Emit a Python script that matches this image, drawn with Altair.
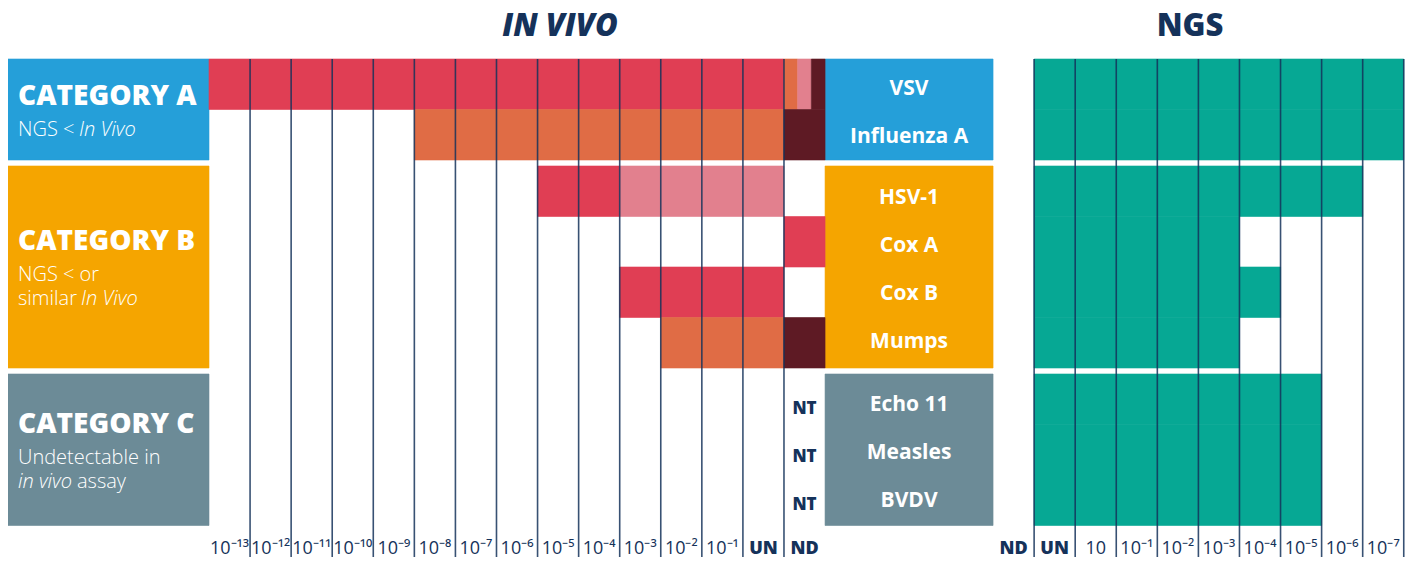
import altair as alt
import pandas as pd

# ---------------- data ----------------
viruses = ["VSV", "Influenza A", "HSV-1", "Cox A", "Cox B", "Mumps", "Echo 11", "Measles", "BVDV"]
virus_category = ["A", "A", "B", "B", "B", "B", "C", "C", "C"]
categories = ["A", "B", "C"]
category_titles = ["CATEGORY A", "CATEGORY B", "CATEGORY C"]
category_notes = [
    [[("NGS <", "normal"), ("In Vivo", "italic")]],
    [[("NGS < or", "normal")], [("similar", "normal"), ("In Vivo", "italic")]],
    [[("Undetectable in", "normal")], [("in vivo", "italic"), ("assay", "normal")]],
]

invivo_levels = ["10⁻¹³", "10⁻¹²", "10⁻¹¹", "10⁻¹⁰", "10⁻⁹", "10⁻⁸", "10⁻⁷", "10⁻⁶",
                 "10⁻⁵", "10⁻⁴", "10⁻³", "10⁻²", "10⁻¹", "UN", "ND"]
ngs_levels = ["ND", "UN", "10", "10⁻¹", "10⁻²", "10⁻³", "10⁻⁴", "10⁻⁵", "10⁻⁶", "10⁻⁷"]
bold_levels = ["UN", "ND"]

# in vivo result ranges
invivo_virus = ["VSV", "Influenza A", "HSV-1", "HSV-1", "Cox B", "Mumps"]
invivo_from = ["10⁻¹³", "10⁻⁸", "10⁻⁵", "10⁻³", "10⁻³", "10⁻²"]
invivo_to = ["UN", "UN", "10⁻⁴", "UN", "UN", "UN"]
invivo_class = ["red", "orange", "red", "pink", "red", "orange"]
# content of the ND column of the in vivo assay, per virus
nd_content = [["orange", "pink", "maroon"], ["maroon"], [], ["red"], [], ["maroon"],
              ["NT"], ["NT"], ["NT"]]
# NGS: detected from UN down to this dilution
ngs_to = ["10⁻⁷", "10⁻⁷", "10⁻⁶", "10⁻³", "10⁻⁴", "10⁻³", "10⁻⁵", "10⁻⁵", "10⁻⁵"]

# ---------------- styles ----------------
NAVY = "#15325a"
class_colors = {"red": "#e03e54", "orange": "#e06c45", "pink": "#e2808e",
                "maroon": "#5e1a24", "teal": "#06a894"}
category_colors = {"A": "#259fd9", "B": "#f5a500", "C": "#6c8b97"}
FONT = "Open Sans"

# ---------------- layout (column / row units) ----------------
COL_PX = 41.07
ROW_PX = 50.5
CAT_W = 201 / COL_PX
LAB_W = 168 / COL_PX
N_IV = len(invivo_levels)
NGS_X0 = N_IV + LAB_W
GAP = 6 / ROW_PX
X_MIN = -CAT_W
X_MAX = X_MIN + 1398 / COL_PX
Y_MIN = -51 / ROW_PX
Y_MAX = Y_MIN + 553 / ROW_PX
LINE_Y2 = 498 / ROW_PX
TICK_Y = 490 / ROW_PX
TITLE_Y = -32 / ROW_PX
LABEL_STEP = 48 / ROW_PX

cat_idx = {c: i for i, c in enumerate(categories)}
row_y = [i + cat_idx[c] * GAP for i, c in enumerate(virus_category)]

rects = []
vlabels = []
nt_rows = []
for c in categories:
    rows = [i for i, vc in enumerate(virus_category) if vc == c]
    y0, y1 = row_y[rows[0]], row_y[rows[-1]] + 1
    rects.append(dict(x=-CAT_W, x2=0, y=y0, y2=y1, fill=category_colors[c]))
    rects.append(dict(x=N_IV, x2=N_IV + LAB_W, y=y0, y2=y1, fill=category_colors[c]))
    mid = (y0 + y1) / 2 + 3 / ROW_PX
    for k, i in enumerate(rows):
        ly = mid + (k - (len(rows) - 1) / 2) * LABEL_STEP
        vlabels.append(dict(x=N_IV + LAB_W / 2, y=ly, t=viruses[i]))
        if nd_content[i] == ["NT"]:
            nt_rows.append(dict(x=N_IV - 0.5, y=ly + 4 / ROW_PX, t="NT"))

# in vivo bars
for v, f, t, k in zip(invivo_virus, invivo_from, invivo_to, invivo_class):
    i = viruses.index(v)
    rects.append(dict(x=invivo_levels.index(f), x2=invivo_levels.index(t) + 1,
                      y=row_y[i], y2=row_y[i] + 1, fill=class_colors[k]))
# ND column
nd_x = invivo_levels.index("ND")
for i, parts in enumerate(nd_content):
    if parts == ["NT"]:
        continue
    n = len(parts)
    for j, k in enumerate(parts):
        rects.append(dict(x=nd_x + j / n, x2=nd_x + (j + 1) / n,
                          y=row_y[i], y2=row_y[i] + 1, fill=class_colors[k]))
# NGS bars
for i, t in enumerate(ngs_to):
    rects.append(dict(x=NGS_X0 + ngs_levels.index("UN"), x2=NGS_X0 + ngs_levels.index(t) + 1,
                      y=row_y[i], y2=row_y[i] + 1, fill=class_colors["teal"]))
rect_df = pd.DataFrame(rects)

# vertical separators
lines = [dict(x=k, y=0, y2=LINE_Y2) for k in range(1, N_IV)]
lines += [dict(x=NGS_X0 + k, y=0, y2=LINE_Y2) for k in range(1, len(ngs_levels) + 1)]
line_df = pd.DataFrame(lines)

# tick labels
ticks = [dict(x=i + 0.5, y=TICK_Y, t=l, b=l in bold_levels) for i, l in enumerate(invivo_levels)]
ticks += [dict(x=NGS_X0 + i + 0.5, y=TICK_Y, t=l, b=l in bold_levels) for i, l in enumerate(ngs_levels)]
tick_df = pd.DataFrame(ticks)

# category texts
TITLE_TO_NOTE = 33 / ROW_PX
NOTE_STEP = 24.5 / ROW_PX
cat_title_rows, note_rows = [], []
# pixel offsets of the second text part of a line (width of the first part + space)
part_offsets = {"NGS <": 61, "similar": 63, "in vivo": 59}
for ci, c in enumerate(categories):
    rows = [i for i, vc in enumerate(virus_category) if vc == c]
    y0, y1 = row_y[rows[0]], row_y[rows[-1]] + 1
    notes = category_notes[ci]
    block = TITLE_TO_NOTE + NOTE_STEP * (len(notes) - 1)
    ty = (y0 + y1) / 2 + 3.5 / ROW_PX - block / 2
    cat_title_rows.append(dict(x=-CAT_W, y=ty, t=category_titles[ci]))
    for li, parts in enumerate(notes):
        ny = ty + TITLE_TO_NOTE + li * NOTE_STEP
        off = 0
        for txt, style in parts:
            note_rows.append(dict(x=-CAT_W, y=ny, t=txt, s=style, off=off))
            off += part_offsets.get(txt, 0)
note_df = pd.DataFrame(note_rows)

xs = alt.Scale(domain=[X_MIN, X_MAX], nice=False, zero=False)
ys = alt.Scale(domain=[Y_MIN, Y_MAX], nice=False, zero=False, reverse=True)
X = lambda f="x": alt.X(f + ":Q", scale=xs, axis=None)
Y = lambda f="y": alt.Y(f + ":Q", scale=ys, axis=None)

rect_layer = alt.Chart(rect_df).mark_rect(strokeWidth=0.6).encode(
    x=X(), x2="x2", y=Y(), y2="y2",
    color=alt.Color("fill:N", scale=None), stroke=alt.Stroke("fill:N", scale=None))
line_layer = alt.Chart(line_df).mark_rule(color=NAVY, strokeWidth=1.6, opacity=0.85).encode(
    x=X(), y=Y(), y2="y2")

tick_norm = alt.Chart(tick_df).transform_filter("!datum.b").mark_text(
    font=FONT, fontSize=18, color=NAVY, baseline="middle", align="center").encode(
    x=X(), y=Y(), text="t:N")
tick_bold = alt.Chart(tick_df).transform_filter("datum.b").mark_text(
    font=FONT, fontSize=18, fontWeight=800, color=NAVY, baseline="middle", align="center").encode(
    x=X(), y=Y(), text="t:N")

nt_layer = alt.Chart(pd.DataFrame(nt_rows)).mark_text(
    font=FONT, fontSize=17, fontWeight=800, color=NAVY, baseline="middle", align="center").encode(
    x=X(), y=Y(), text="t:N")
vlab_layer = alt.Chart(pd.DataFrame(vlabels)).mark_text(
    font=FONT, fontSize=21, fontWeight=700, color="white", baseline="middle", align="center").encode(
    x=X(), y=Y(), text="t:N")
cat_title_layer = alt.Chart(pd.DataFrame(cat_title_rows)).mark_text(
    font=FONT, fontSize=28, fontWeight=800, color="white", baseline="middle", align="left", dx=10).encode(
    x=X(), y=Y(), text="t:N")

note_layers = []
for style in ["normal", "italic"]:
    sub = note_df[note_df.s == style]
    for off in sorted(sub.off.unique()):
        part = sub[sub.off == off]
        note_layers.append(alt.Chart(part).mark_text(
            font=FONT, fontSize=20, fontWeight=300, fontStyle=style, color="white",
            baseline="middle", align="left", dx=10 + int(off)).encode(
            x=X(), y=Y(), text="t:N"))

title_df = pd.DataFrame([dict(x=(560 - 209) / COL_PX, y=TITLE_Y, t="IN VIVO", s="italic"),
                         dict(x=(1190 - 209) / COL_PX, y=TITLE_Y, t="NGS", s="normal")])
title_layers = [alt.Chart(title_df[title_df.s == s]).mark_text(
    font=FONT, fontSize=31, fontWeight=800, fontStyle=s, color=NAVY,
    baseline="middle", align="center").encode(x=X(), y=Y(), text="t:N")
    for s in ["italic", "normal"]]

chart = alt.layer(rect_layer, line_layer, tick_norm, tick_bold, nt_layer, vlab_layer,
                  cat_title_layer, *note_layers, *title_layers).properties(
    width=1398, height=553, padding=0, background="white",
    autosize=alt.AutoSizeParams(type="none")
).configure_view(strokeWidth=0, stroke="transparent")

chart.save("out.html", embed_options={"renderer": "svg", "actions": False})
